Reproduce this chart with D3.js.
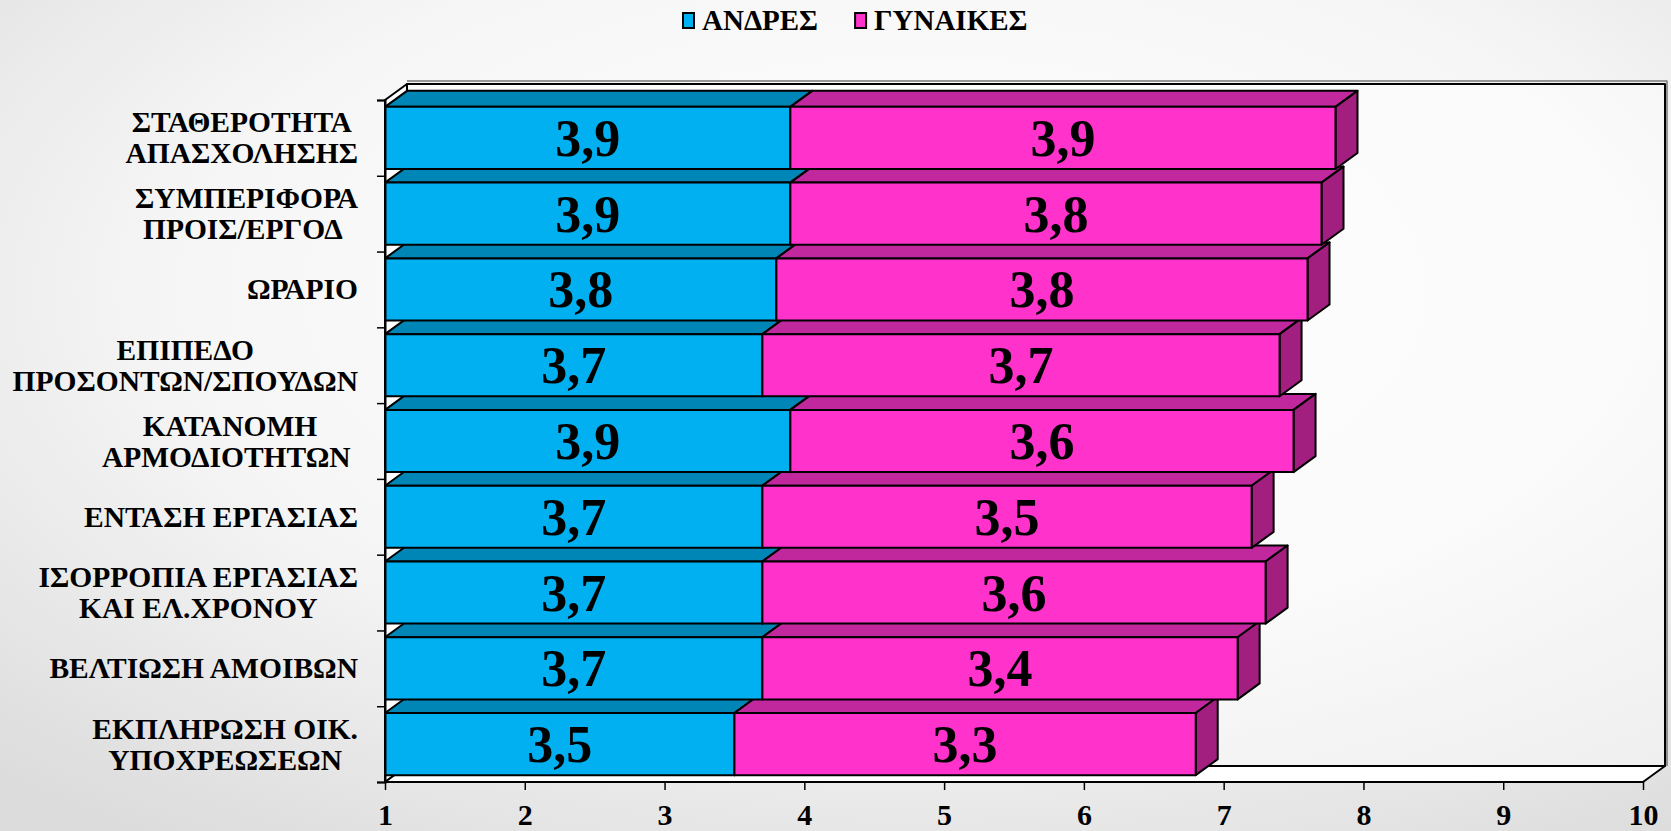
<!DOCTYPE html>
<html>
<head>
<meta charset="utf-8">
<script src="https://cdn.jsdelivr.net/npm/d3@7"></script>
<style>
  html, body { margin: 0; padding: 0; }
  body { width: 1671px; height: 831px; overflow: hidden; }
  text { font-family: 'Liberation Serif', 'Times New Roman', serif; font-weight: bold; fill: #000; }
</style>
</head>
<body>
<div id="chart"></div>
<script>
var categories = [
    'ΣΤΑΘΕΡΟΤΗΤΑ\nΑΠΑΣΧΟΛΗΣΗΣ',
    'ΣΥΜΠΕΡΙΦΟΡΑ\nΠΡΟΙΣ/ΕΡΓΟΔ\u00a0',
    'ΩΡΑΡΙΟ',
    'ΕΠΙΠΕΔΟ\nΠΡΟΣΟΝΤΩΝ/ΣΠΟΥΔΩΝ',
    'ΚΑΤΑΝΟΜΗ\nΑΡΜΟΔΙΟΤΗΤΩΝ\u00a0',
    'ΕΝΤΑΣΗ ΕΡΓΑΣΙΑΣ',
    'ΙΣΟΡΡΟΠΙΑ ΕΡΓΑΣΙΑΣ\nΚΑΙ ΕΛ.ΧΡΟΝΟΥ',
    'ΒΕΛΤΙΩΣΗ ΑΜΟΙΒΩΝ',
    'ΕΚΠΛΗΡΩΣΗ ΟΙΚ.\nΥΠΟΧΡΕΩΣΕΩΝ'
];
var seriesNames = ['ΑΝΔΡΕΣ', 'ΓΥΝΑΙΚΕΣ'];
var men   = [3.9, 3.9, 3.8, 3.7, 3.9, 3.7, 3.7, 3.7, 3.5];
var women = [3.9, 3.8, 3.8, 3.7, 3.6, 3.5, 3.6, 3.4, 3.3];
var xTicks = [1, 2, 3, 4, 5, 6, 7, 8, 9, 10];

var colors = [
    {front: '#00b0f0', top: '#0086b6', side: '#006f99'},
    {front: '#ff33cc', top: '#c2289e', side: '#a21f7f'}
];

var W = 1671, H = 831;
var plotLeft = 385, plotRight = 1643, plotTop = 100, plotBottom = 782;
var dx = 22, dy = 16;   // 3d depth offset

var svg = d3.select('#chart').append('svg')
    .attr('width', W)
    .attr('height', H);

// page background
var grad = svg.append('defs').append('radialGradient')
    .attr('id', 'bg').attr('cx', '55%').attr('cy', '35%').attr('r', '80%');
grad.append('stop').attr('offset', '0%').attr('stop-color', '#ffffff');
grad.append('stop').attr('offset', '55%').attr('stop-color', '#f6f6f6');
grad.append('stop').attr('offset', '100%').attr('stop-color', '#dcdcdc');
svg.append('rect').attr('width', W).attr('height', H).attr('fill', 'url(#bg)');

var xScale = d3.scaleLinear()
    .domain([1, 10])
    .range([plotLeft, plotRight]);

var yScale = d3.scaleBand()
    .domain(d3.range(categories.length))
    .range([plotTop, plotBottom])
    .paddingInner(0.18)
    .paddingOuter(0.09);

var yEdge = d3.scaleLinear()
    .domain([0, categories.length])
    .range([plotTop, plotBottom]);

function poly(pts) {
    return 'M' + pts.map(p => p[0] + ',' + p[1]).join('L') + 'Z';
}

// walls
var walls = svg.append('g')
    .style('stroke', '#000')
    .style('stroke-width', 2)
    .style('stroke-linejoin', 'round');

walls.append('path')
    .attr('d', 'M' + (plotLeft + dx) + ',' + (plotTop - dy - 3) + 'H' + (plotRight + dx + 2) + 'V' + (plotBottom - dy))
    .style('fill', 'none')
    .style('stroke', '#777')
    .style('stroke-width', 1.5);

walls.append('rect')
    .attr('x', plotLeft + dx).attr('y', plotTop - dy)
    .attr('width', plotRight - plotLeft).attr('height', plotBottom - plotTop)
    .style('fill', '#ffffff').style('fill-opacity', 0.45);

walls.append('path')
    .attr('d', poly([[plotLeft, plotBottom], [plotLeft, plotTop], [plotLeft + dx, plotTop - dy], [plotLeft + dx, plotBottom - dy]]))
    .style('fill', '#fff');

walls.append('path')
    .attr('d', poly([[plotLeft, plotBottom], [plotRight, plotBottom], [plotRight + dx, plotBottom - dy], [plotLeft + dx, plotBottom - dy]]))
    .style('fill', '#fff');

// bars, bottom row first so upper rows overlap the top faces below them
var bars = svg.append('g')
    .style('stroke', '#000')
    .style('stroke-width', 2)
    .style('stroke-linejoin', 'round');

var rows = categories.map((c, i) => {
    var m = men[i], w = women[i];
    return [
        {s: 0, v: m, x0: xScale(1), x1: xScale(m)},
        {s: 1, v: w, x0: xScale(m), x1: xScale(m + w)}
    ].map(d => Object.assign(d, {i: i}));
});

d3.range(categories.length).reverse().forEach(i => {
    var y0 = yScale(i), y1 = y0 + yScale.bandwidth();
    var g = bars.append('g');
    rows[i].forEach(d => {
        var c = colors[d.s];
        g.append('path')
            .attr('d', poly([[d.x0, y0], [d.x1, y0], [d.x1 + dx, y0 - dy], [d.x0 + dx, y0 - dy]]))
            .style('fill', c.top);
        g.append('path')
            .attr('d', poly([[d.x1, y0], [d.x1 + dx, y0 - dy], [d.x1 + dx, y1 - dy], [d.x1, y1]]))
            .style('fill', c.side);
        g.append('rect')
            .attr('x', d.x0).attr('y', y0)
            .attr('width', d.x1 - d.x0).attr('height', y1 - y0)
            .style('fill', c.front);
    });
});

// value labels
var fmt = v => d3.format('.1f')(v).replace('.', ',');
svg.append('g').selectAll('text')
    .data(rows.flat())
    .enter().append('text')
    .attr('x', d => (d.x0 + d.x1) / 2)
    .attr('y', d => yScale(d.i) + yScale.bandwidth() / 2 + 18)
    .attr('text-anchor', 'middle')
    .style('font-size', '52px')
    .text(d => fmt(d.v));

// x axis
var xAxis = d3.axisBottom(xScale)
    .tickValues(xTicks)
    .tickSize(8)
    .tickPadding(14)
    .tickFormat(d3.format('d'));

svg.append('g')
    .attr('transform', `translate(0, ${plotBottom})`)
    .call(xAxis)
    .call(g => g.select('.domain').remove())
    .call(g => g.selectAll('.tick line').attr('stroke', '#000').attr('stroke-width', 1.5))
    .call(g => g.selectAll('.tick text')
        .style('font-family', "'Liberation Serif', 'Times New Roman', serif")
        .style('font-weight', 'bold')
        .style('font-size', '30px'));

// category axis ticks at band edges
var yAxis = d3.axisLeft(yEdge)
    .tickValues(d3.range(categories.length + 1))
    .tickSize(8)
    .tickFormat('');

svg.append('g')
    .attr('transform', `translate(${plotLeft}, 0)`)
    .call(yAxis)
    .call(g => g.select('.domain').attr('stroke', '#000').attr('stroke-width', 2))
    .call(g => g.selectAll('.tick line').attr('stroke', '#000').attr('stroke-width', 1.5));

// category labels
var labelRight = 358, lineH = 31;
var labels = svg.append('g').style('font-size', '29.5px');
categories.forEach((c, i) => {
    var lines = c.split('\n');
    var cy = yScale(i) + yScale.bandwidth() / 2;
    var t = labels.append('text')
        .attr('text-anchor', 'middle')
        .style('white-space', 'pre');
    var spans = lines.map((l, k) => t.append('tspan')
        .attr('y', cy - (lines.length - 1) * lineH / 2 + k * lineH + 10)
        .text(l));
    var maxW = d3.max(spans, s => s.node().getComputedTextLength());
    spans.forEach(s => s.attr('x', labelRight - maxW / 2));
});

// legend
var legend = svg.append('g').style('font-size', '29px');
var lx = 683;
seriesNames.forEach((n, k) => {
    legend.append('rect')
        .attr('x', lx).attr('y', 13)
        .attr('width', 11).attr('height', 15)
        .style('fill', colors[k].front)
        .style('stroke', '#000')
        .style('stroke-width', 2);
    var t = legend.append('text')
        .attr('x', lx + 19).attr('y', 30)
        .text(n);
    lx += 19 + t.node().getComputedTextLength() + 37;
});
</script>
</body>
</html>
